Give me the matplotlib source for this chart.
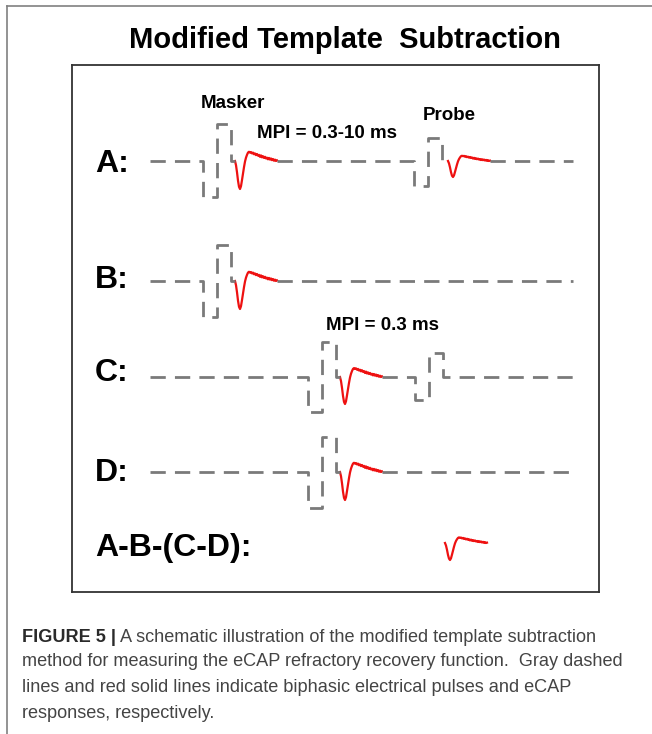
import matplotlib
matplotlib.use("Agg")
import matplotlib.pyplot as plt
from matplotlib.lines import Line2D

# ---------------- data (schematic units = pixels inside the framed panel) -------------
row_labels = ["A:", "B:", "C:", "D:", "A-B-(C-D):"]
row_baseline = [431, 311, 215, 120, 49]          # y of each trace baseline
row_label_y = [428, 312, 219, 119, 44]
trace_start, trace_end = 78, 501                  # extent of dashed baselines

# pulses per row
masker_onset = [131, 131, 236, 236, None]
masker_neg = [36, 36, 35, 36, 0]
masker_pos = [37, 36, 35, 35, 0]
probe_onset = [342, None, 343, None, None]
probe_neg = [25, 0, 23, 0, 0]
probe_pos = [23, 0, 24, 0, 0]
probe_has_ecap = [True, False, False, False, False]
phase_width = 14

# eCAP template: (dx from onset, normalised amplitude; trough = -1)
ecap_dx = [0, 1, 2, 3, 4, 5, 6, 7, 8, 9, 10, 11, 12, 13, 14, 15, 16, 17, 18, 19, 20,
           21, 22, 23, 24, 25, 26, 27, 28, 29, 30, 31, 32, 33, 34, 35, 36, 37, 38, 39,
           40, 41, 42]
ecap_y = [0, -0.15, -0.4, -0.7, -0.92, -1.0, -0.9, -0.68, -0.45, -0.22, -0.02, 0.12,
          0.22, 0.3, 0.33, 0.3, 0.32, 0.27, 0.3, 0.24, 0.27, 0.21, 0.25, 0.19, 0.22,
          0.15, 0.2, 0.13, 0.17, 0.11, 0.15, 0.09, 0.12, 0.06, 0.11, 0.05, 0.09, 0.03,
          0.07, 0.01, 0.05, 0.0, 0.02]
masker_ecap_depth = [28, 28, 27, 28]
probe_ecap_depth = 16
diff_ecap_depth = 17
diff_ecap_onset = 373
ecap_gap = 4

annotations = [("Masker", 161, 488), ("Probe", 377, 476),
               ("MPI = 0.3-10 ms", 255, 458), ("MPI = 0.3 ms", 311, 266)]
title = "Modified Template  Subtraction"
caption_bold = "FIGURE 5 |"
caption_lines = [
    " A schematic illustration of the modified template subtraction",
    "method for measuring the eCAP refractory recovery function.  Gray dashed",
    "lines and red solid lines indicate biphasic electrical pulses and eCAP",
    "responses, respectively.",
]

GRAY = "#7a7a7a"
RED = "#ee1111"

W, H = 652, 734
fig = plt.figure(figsize=(W / 100, H / 100), dpi=100)
fig.patch.set_facecolor("white")

# outer frame lines (figure pixel coords)
fig.add_artist(Line2D([7 / W, 1.0], [1 - 6 / H, 1 - 6 / H], transform=fig.transFigure,
                      color="#808080", lw=1.2))
fig.add_artist(Line2D([7 / W, 7 / W], [1 - 6 / H, 0], transform=fig.transFigure,
                      color="#808080", lw=1.2))

# inner panel
bx0, bx1, by0, by1 = 72, 599, 65, 592
ax = fig.add_axes([bx0 / W, 1 - by1 / H, (bx1 - bx0) / W, (by1 - by0) / H])
ax.set_xlim(0, bx1 - bx0)
ax.set_ylim(0, by1 - by0)
ax.set_xticks([])
ax.set_yticks([])
for s in ax.spines.values():
    s.set_color("#333333")
    s.set_linewidth(1.3)

fig.text(345 / W, 1 - 40 / H, title, ha="center", va="center",
         fontsize=21, fontweight="bold", family="Liberation Sans")

dash_kw = dict(color=GRAY, lw=2.0, linestyle=(0, (5.5, 3.3)), solid_capstyle="butt",
               dash_capstyle="butt")


def pulse_path(x0, base, neg, pos, w):
    xs = [x0, x0, x0 + w, x0 + w, x0 + 2 * w, x0 + 2 * w]
    ys = [base, base - neg, base - neg, base + pos, base + pos, base]
    return xs, ys


def draw_ecap(x0, base, depth):
    ax.plot([x0 + d for d in ecap_dx], [base + depth * v for v in ecap_y],
            color=RED, lw=1.6, solid_joinstyle="round")


for i, lab in enumerate(row_labels):
    base = row_baseline[i]
    ax.text(23, row_label_y[i], lab, ha="left", va="center", fontsize=23,
            fontweight="bold", family="Liberation Sans")
    if masker_onset[i] is None:
        draw_ecap(diff_ecap_onset, base, diff_ecap_depth)
        continue
    segs = []
    xs, ys = [trace_start], [base]
    m0 = masker_onset[i]
    px, py = pulse_path(m0, base, masker_neg[i], masker_pos[i], phase_width)
    xs += px; ys += py
    e0 = m0 + 2 * phase_width + ecap_gap
    xs.append(e0); ys.append(base)
    segs.append((xs, ys))
    draw_ecap(e0, base, masker_ecap_depth[i])
    xs, ys = [e0 + ecap_dx[-1]], [base]
    if probe_onset[i] is not None:
        p0 = probe_onset[i]
        px, py = pulse_path(p0, base, probe_neg[i], probe_pos[i], phase_width)
        xs += px; ys += py
        if probe_has_ecap[i]:
            e1 = p0 + 2 * phase_width + ecap_gap + 2
            xs.append(e1); ys.append(base)
            segs.append((xs, ys))
            draw_ecap(e1, base, probe_ecap_depth)
            xs, ys = [e1 + ecap_dx[-1]], [base]
    xs.append(trace_end); ys.append(base)
    segs.append((xs, ys))
    for sx, sy in segs:
        ax.plot(sx, sy, **dash_kw)

for txt, x, y in annotations:
    ax.text(x, y, txt, ha="center", va="center", fontsize=13.5, fontweight="bold",
            family="Liberation Sans")

# caption
cap_family = "Liberation Sans"
cap_y = [637, 662, 688, 713]
cap_size = 13.1
t = fig.text(22 / W, 1 - cap_y[0] / H, caption_bold, ha="left", va="center",
             fontsize=cap_size, fontweight="bold", family=cap_family, color="#2a2a2a")
fig.canvas.draw()
bb = t.get_window_extent()
fig.text(bb.x1 / W, 1 - cap_y[0] / H, caption_lines[0], ha="left", va="center",
         fontsize=cap_size, family=cap_family, color="#444444")
for line, y in zip(caption_lines[1:], cap_y[1:]):
    fig.text(22 / W, 1 - y / H, line, ha="left", va="center", fontsize=cap_size,
             family=cap_family, color="#444444")

fig.savefig("out.png", dpi=100, facecolor="white")
